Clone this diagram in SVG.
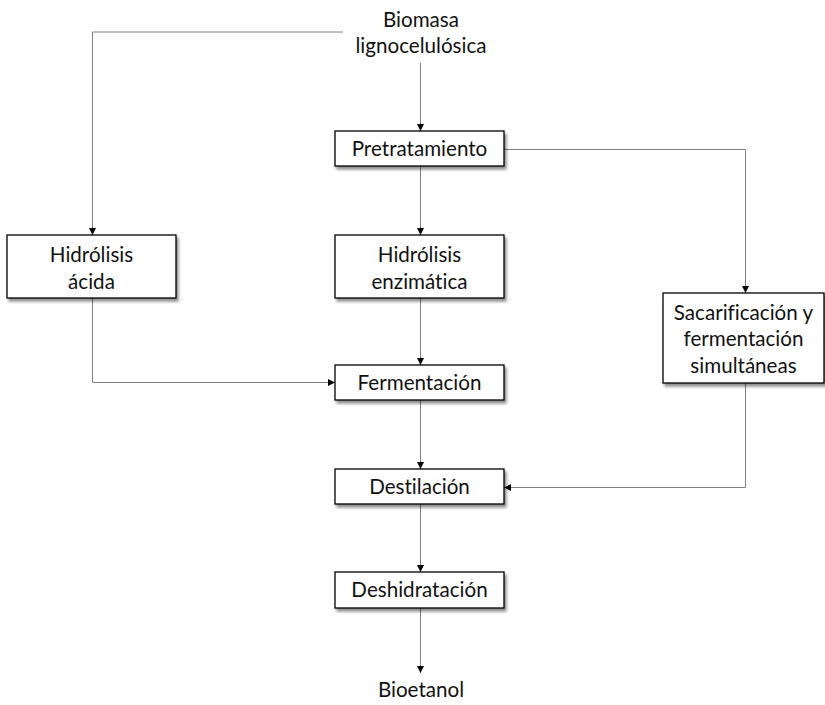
<svg xmlns="http://www.w3.org/2000/svg" width="825" height="705" viewBox="0 0 825 705">
  <defs>
    <marker id="arrow" viewBox="0 0 10 10" refX="10" refY="5" markerWidth="7" markerHeight="7" markerUnits="userSpaceOnUse" orient="auto">
      <path d="M0,0 L10,5 L0,10 z" fill="#000"/>
    </marker>
    <filter id="shadow" x="-10%" y="-10%" width="130%" height="140%">
      <feGaussianBlur in="SourceAlpha" stdDeviation="1.5"/>
      <feOffset dx="2" dy="2.5" result="b"/>
      <feComponentTransfer><feFuncA type="linear" slope="0.45"/></feComponentTransfer>
      <feMerge><feMergeNode/><feMergeNode in="SourceGraphic"/></feMerge>
    </filter>
  </defs>
  <style>
    .box { fill: #fff; stroke: #000; stroke-width: 1.3; filter: url(#shadow); }
    .lbl { font-family: Lato, "Open Sans", sans-serif; font-size: 20.6px; fill: #111; text-anchor: middle; font-variant-ligatures: none; font-feature-settings: "liga" 0, "dlig" 0; }
    .con { fill: none; stroke: #7f7f7f; stroke-width: 1; marker-end: url(#arrow); }
  </style>
  <rect width="825" height="705" fill="#fff"/>

  <g id="connectors">
    <path class="con" d="M343,32 H92.5 V235"/>
    <path class="con" d="M420.5,63 V131"/>
    <path class="con" d="M504,149.5 H745.5 V293"/>
    <path class="con" d="M420.5,166 V235"/>
    <path class="con" d="M420.5,298 V365"/>
    <path class="con" d="M92.5,298 V382.5 H335"/>
    <path class="con" d="M420.5,400 V469"/>
    <path class="con" d="M745.5,383 V487.5 H504"/>
    <path class="con" d="M420.5,504 V572"/>
    <path class="con" d="M420.5,608 V673"/>
  </g>

  <g id="biomasa">
    <text class="lbl" x="421" y="27">Biomasa</text>
    <text class="lbl" x="421" y="53">lignocelulósica</text>
  </g>
  <g id="pretratamiento">
    <rect class="box" x="335" y="131" width="169" height="35"/>
    <text class="lbl" x="419.5" y="156">Pretratamiento</text>
  </g>
  <g id="hidrolisis-acida">
    <rect class="box" x="7" y="235" width="169" height="63"/>
    <text class="lbl" x="91.5" y="262">Hidrólisis</text>
    <text class="lbl" x="91.5" y="289">ácida</text>
  </g>
  <g id="hidrolisis-enzimatica">
    <rect class="box" x="335" y="235" width="169" height="63"/>
    <text class="lbl" x="419.5" y="262">Hidrólisis</text>
    <text class="lbl" x="419.5" y="289">enzimática</text>
  </g>
  <g id="sacarificacion">
    <rect class="box" x="663" y="293" width="161" height="90"/>
    <text class="lbl" x="743.5" y="320">Sacarificación y</text>
    <text class="lbl" x="743.5" y="346">fermentación</text>
    <text class="lbl" x="743.5" y="373">simultáneas</text>
  </g>
  <g id="fermentacion">
    <rect class="box" x="335" y="365" width="169" height="35"/>
    <text class="lbl" x="419.5" y="390">Fermentación</text>
  </g>
  <g id="destilacion">
    <rect class="box" x="335" y="469" width="169" height="35"/>
    <text class="lbl" x="419.5" y="494">Destilación</text>
  </g>
  <g id="deshidratacion">
    <rect class="box" x="335" y="572" width="169" height="36"/>
    <text class="lbl" x="419.5" y="597">Deshidratación</text>
  </g>
  <g id="bioetanol">
    <text class="lbl" x="421" y="697">Bioetanol</text>
  </g>
</svg>
